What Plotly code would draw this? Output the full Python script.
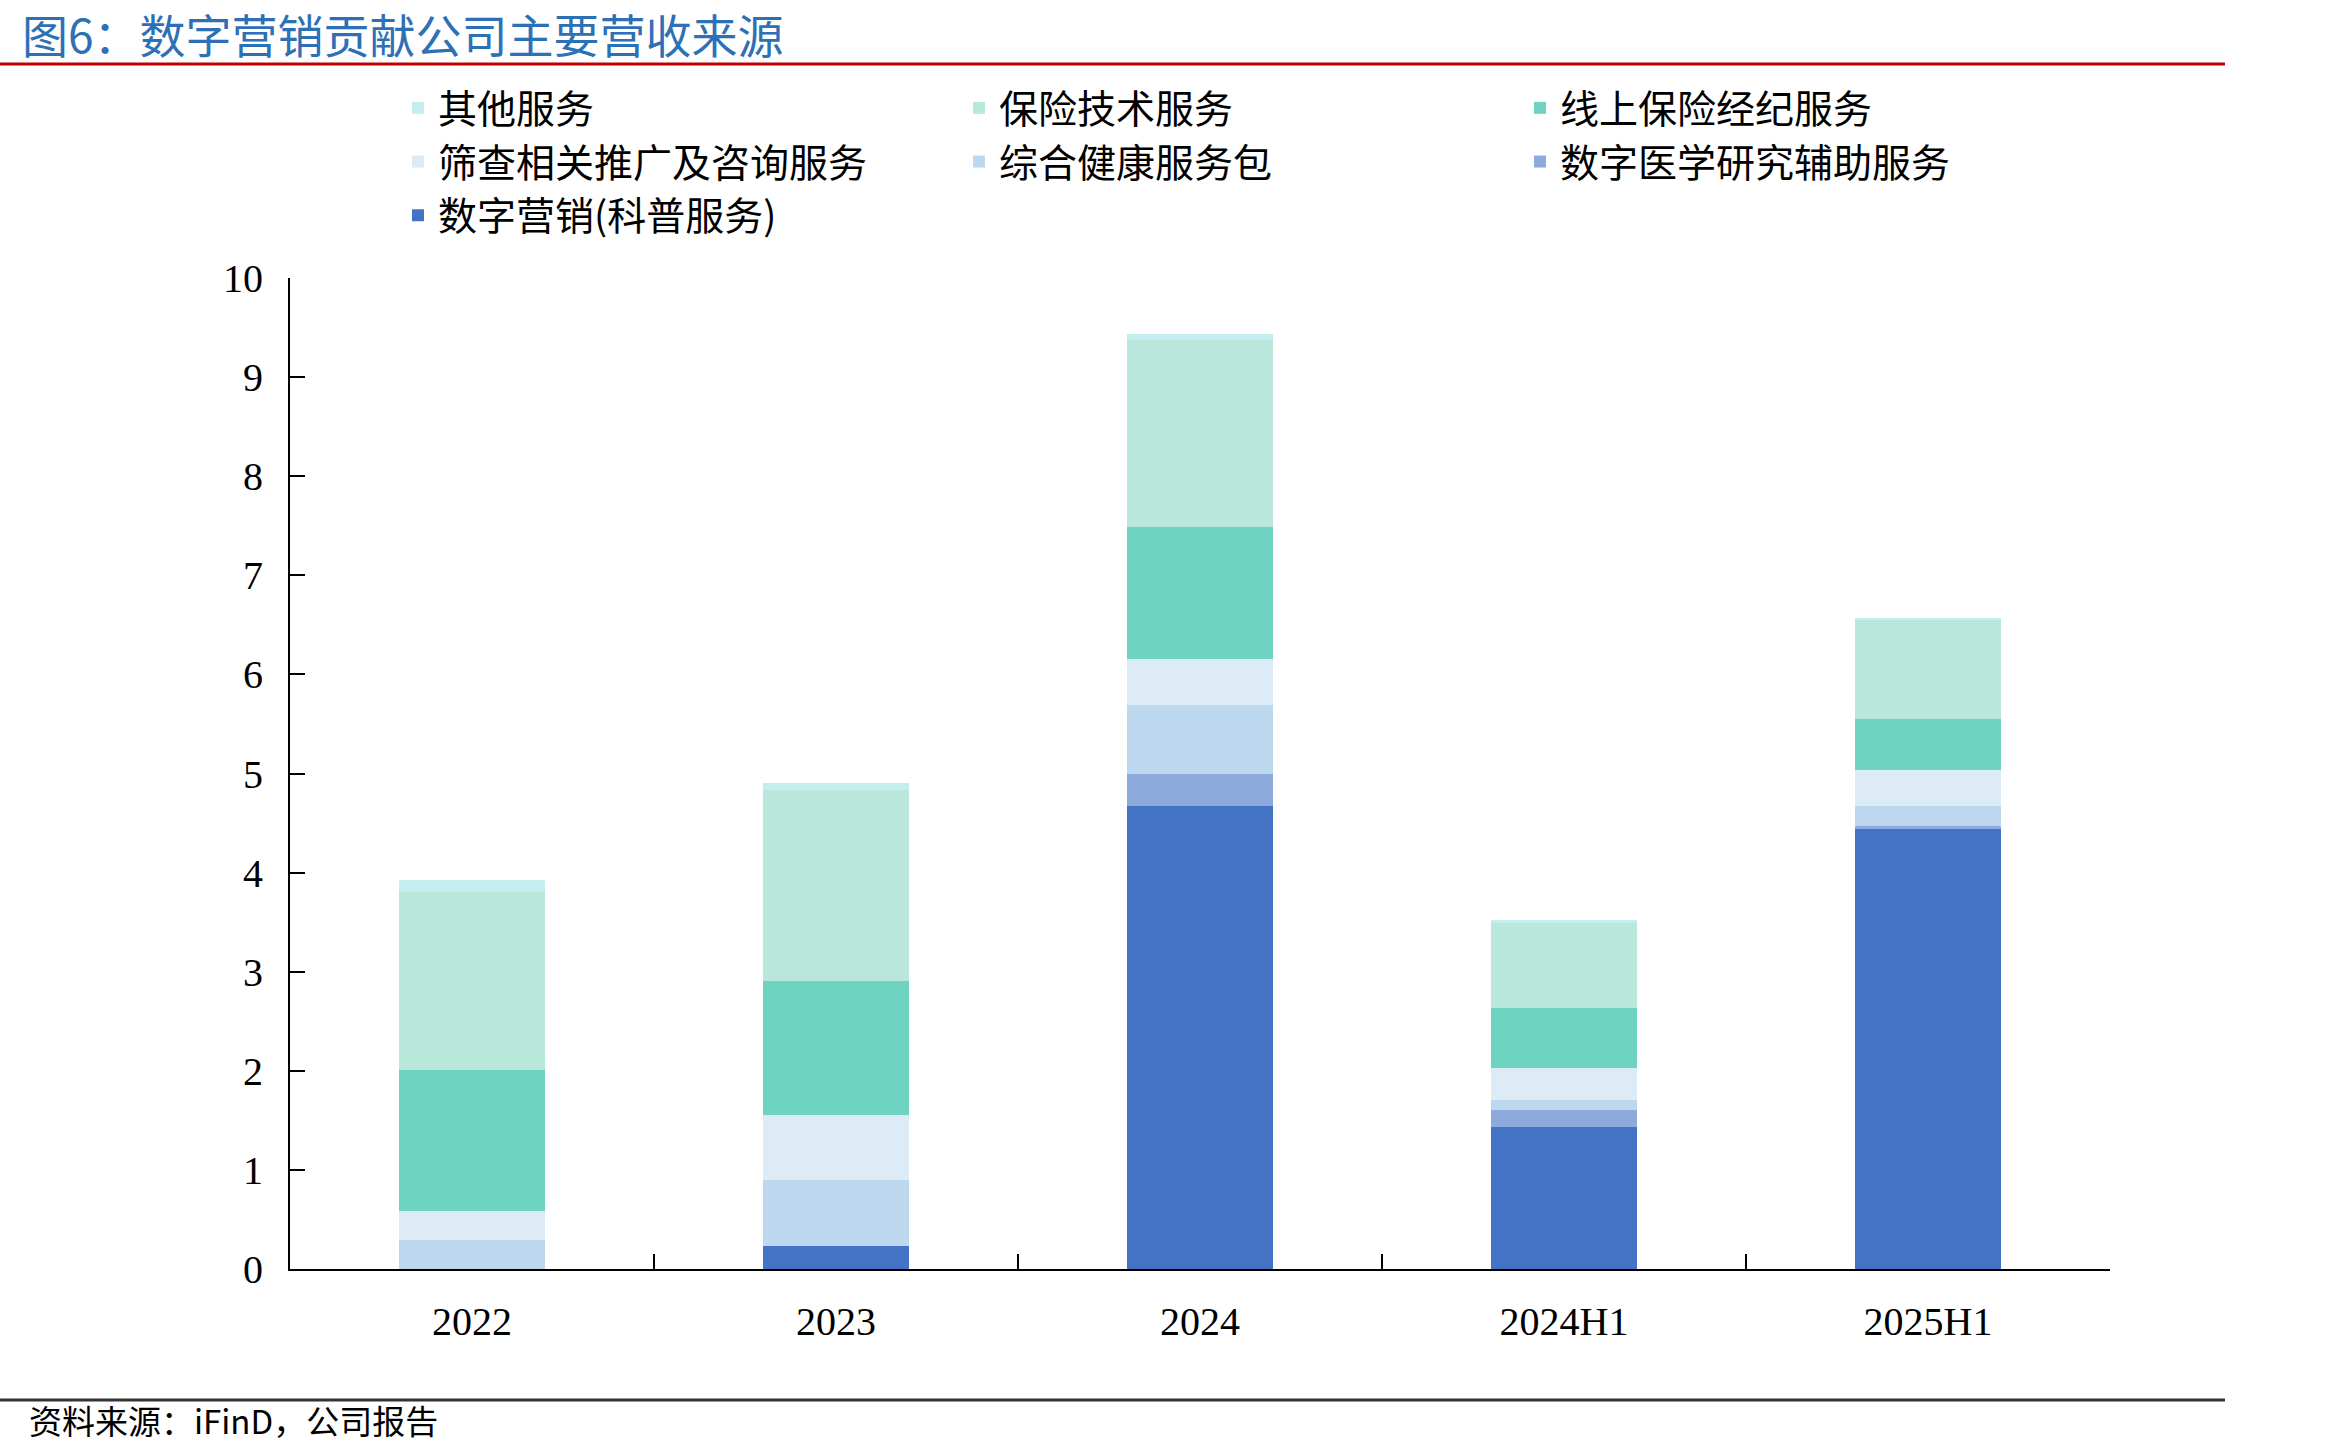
import plotly.graph_objects as go

categories = ["2022", "2023", "2024", "2024H1", "2025H1"]

series_names = [
    "数字营销(科普服务)",
    "数字医学研究辅助服务",
    "综合健康服务包",
    "筛查相关推广及咨询服务",
    "线上保险经纪服务",
    "保险技术服务",
    "其他服务",
]
marketing = [0.00, 0.23, 4.67, 1.43, 4.44]
research = [0.00, 0.00, 0.33, 0.17, 0.03]
health = [0.29, 0.665, 0.69, 0.11, 0.20]
screening = [0.30, 0.655, 0.47, 0.32, 0.37]
online = [1.42, 1.36, 1.33, 0.60, 0.51]
instech = [1.79, 1.92, 1.88, 0.865, 1.00]
other = [0.13, 0.075, 0.07, 0.03, 0.02]

series_values = [marketing, research, health, screening, online, instech, other]
colors = ["#4472C4", "#8EA9DB", "#BDD7EE", "#DDEBF7", "#6FD3C1", "#BAE7DC", "#C6EEF1"]

y_ticks = list(range(0, 11))

W, H = 2330, 1453
L, R, T, B = 290, 220, 278, 184
PW, PH = W - L - R, H - T - B


def px(xp):
    return (xp - L) / PW


def py(yp):
    return (H - B - yp) / PH


fig = go.Figure()
for name, vals, col in zip(series_names, series_values, colors):
    fig.add_trace(go.Bar(
        x=categories, y=vals, name=name,
        marker=dict(color=col, line=dict(width=0)),
    ))

serif = "Liberation Serif"
cjk = "Noto Sans CJK SC"

fig.update_layout(
    width=W, height=H,
    margin=dict(l=L, r=R, t=T, b=B),
    barmode="stack",
    bargap=0.6,
    plot_bgcolor="white",
    paper_bgcolor="white",
    showlegend=True,
    legend=dict(
        orientation="h",
        traceorder="reversed",
        x=px(398), xanchor="left",
        y=py(76), yanchor="top",
        font=dict(family=cjk, size=39, color="#000000"),
        entrywidth=516,
        entrywidthmode="pixels",
        bgcolor="rgba(0,0,0,0)",
    ),
    xaxis=dict(
        type="category",
        showline=True, linecolor="#000000", linewidth=2,
        ticks="inside", tickson="boundaries", ticklen=15, tickwidth=2, tickcolor="#000000",
        showgrid=False, zeroline=False,
        tickfont=dict(family=serif, size=40, color="#000000"),
        ticklabelstandoff=16,
    ),
    yaxis=dict(
        range=[0, 10],
        tickvals=y_ticks,
        showline=True, linecolor="#000000", linewidth=2,
        ticks="inside", ticklen=15, tickwidth=2, tickcolor="#000000",
        showgrid=False, zeroline=False,
        tickfont=dict(family=serif, size=40, color="#000000"),
        ticklabelstandoff=17,
    ),
    shapes=[
        dict(type="line", xref="paper", yref="paper",
             x0=px(0), x1=px(2225), y0=py(64), y1=py(64),
             line=dict(color="#C00000", width=3)),
        dict(type="line", xref="paper", yref="paper",
             x0=px(0), x1=px(2225), y0=py(1400), y1=py(1400),
             line=dict(color="#333333", width=3)),
    ],
    annotations=[
        dict(text="图6：数字营销贡献公司主要营收来源", xref="paper", yref="paper",
             x=px(20), y=py(33), xanchor="left", yanchor="middle",
             showarrow=False, font=dict(family=cjk, size=46, color="#2E70B5")),
        dict(text="资料来源：iFinD，公司报告", xref="paper", yref="paper",
             x=px(27), y=py(1420), xanchor="left", yanchor="middle",
             showarrow=False, font=dict(family=cjk, size=33, color="#000000")),
    ],
)

fig.write_html("out.html")
